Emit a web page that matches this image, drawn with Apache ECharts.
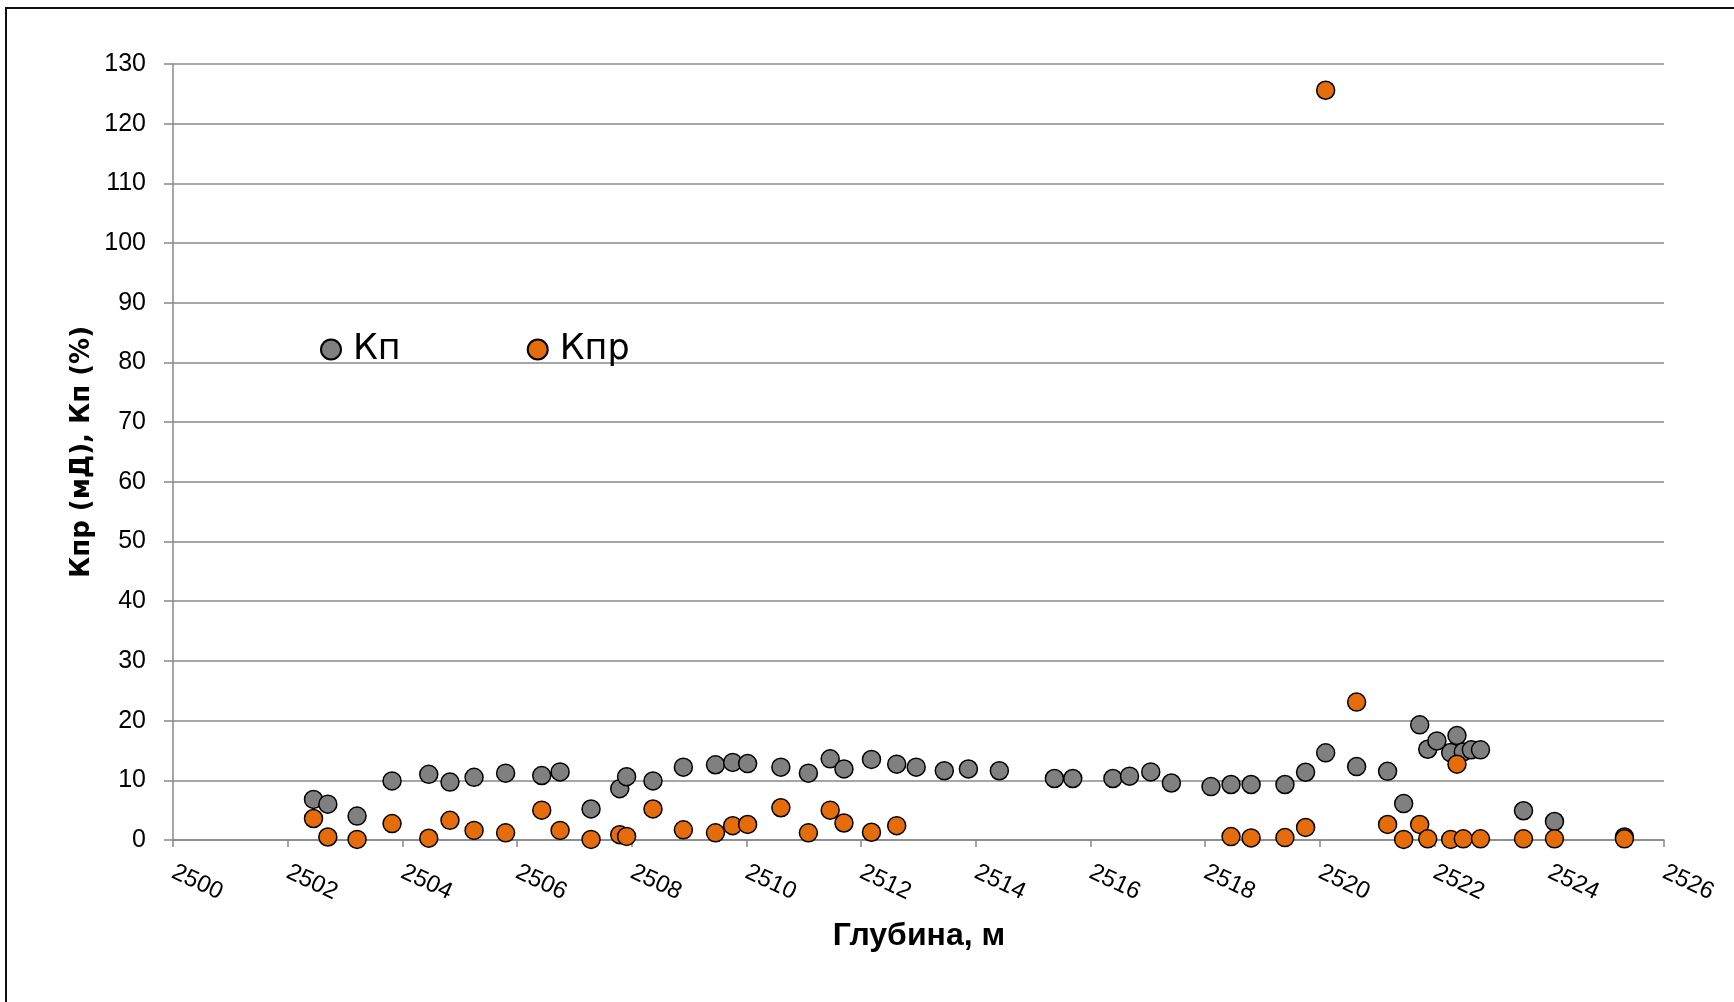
<!DOCTYPE html>
<html>
<head>
<meta charset="utf-8">
<script src="https://cdn.jsdelivr.net/npm/echarts@6/dist/echarts.min.js"></script>
<style>
html,body{margin:0;padding:0;background:#fff;}
#chart{width:1734px;height:1002px;}
</style>
</head>
<body>
<div id="chart"></div>
<script>
// Depth, m
const depths = [2502.45,2502.70,2503.21,2503.82,2504.46,2504.83,2505.25,2505.80,2506.43,2506.75,
  2507.29,2507.79,2507.91,2508.37,2508.90,2509.46,2509.76,2510.02,2510.60,2511.08,
  2511.46,2511.70,2512.18,2512.62,2512.96,2513.45,2513.87,2514.41,2515.37,2515.69,
  2516.39,2516.68,2517.05,2517.41,2518.10,2518.45,2518.80,2519.39,2519.75,2520.10,
  2520.64,2521.18,2521.46,2521.74,2521.88,2522.04,2522.28,2522.39,2522.50,2522.64,
  2522.80,2523.55,2524.09,2525.31];
// Кп (%)
const kp = [6.8,6.0,4.0,9.9,11.0,9.7,10.5,11.2,10.8,11.4,
  5.2,8.6,10.6,9.9,12.2,12.6,13.0,12.8,12.2,11.2,
  13.6,11.9,13.5,12.7,12.2,11.6,11.9,11.6,10.3,10.3,
  10.3,10.7,11.4,9.55,8.95,9.3,9.3,9.3,11.35,14.6,
  12.3,11.5,6.1,19.3,15.2,16.6,14.65,17.5,14.75,15.1,
  15.1,4.9,3.1,0.5];
// Кпр (мД)
const kpr = [3.6,0.5,0.1,2.75,0.3,3.3,1.6,1.2,5.0,1.6,
  0.1,0.9,0.6,5.2,1.7,1.2,2.4,2.6,5.4,1.2,
  5.0,2.85,1.3,2.4,null,null,null,null,null,null,
  null,null,null,null,null,0.57,0.35,0.4,2.1,125.6,
  23.1,2.6,0.1,2.6,0.2,null,0.1,12.7,0.2,null,
  0.2,0.2,0.2,0.2];
const seriesNames = ['Кп','Кпр'];
const xTitle = 'Глубина, м';
const yTitle = 'Кпр (мД), Кп (%)';

const pairs = (vals) => depths.map((d,i)=>[d, vals[i]]).filter(p => p[1] !== null);

const chart = echarts.init(document.getElementById('chart'), null, {renderer:'canvas'});
const gridColor = '#888888';
chart.setOption({
  backgroundColor:'#ffffff',
  animation:false,
  grid:{left:173, right:70, top:64, bottom:162},
  legend:{
    left:315, top:327, padding:5, itemWidth:20, itemHeight:20, itemGap:126,
    icon:'circle',
    textStyle:{fontFamily:'DejaVu Sans', fontSize:35, color:'#000', padding:[0,0,0,7]},
    data: seriesNames
  },
  xAxis:{
    type:'value', min:2500, max:2526, interval:2,
    splitLine:{show:false},
    axisLine:{show:true, lineStyle:{color:gridColor, width:1.5}},
    axisTick:{show:true, length:7, lineStyle:{color:gridColor, width:1.5}},
    axisLabel:{rotate:-25, margin:31, fontFamily:'Liberation Sans', fontSize:24, color:'#000',
      formatter:(v)=>String(v)}
  },
  yAxis:{
    type:'value', min:0, max:130, interval:10,
    splitLine:{show:true, lineStyle:{color:gridColor, width:1.5}},
    axisLine:{show:true, lineStyle:{color:gridColor, width:1.5}},
    axisTick:{show:true, length:9, lineStyle:{color:gridColor, width:1.5}},
    axisLabel:{margin:27, fontFamily:'Liberation Sans', fontSize:25, color:'#000'}
  },
  graphic:[
    {type:'rect', silent:true, shape:{x:6, y:8, width:1800, height:1100},
     style:{fill:null, stroke:'#111', lineWidth:2}},
    {type:'text', silent:true, x:919, y:936,
     style:{text:xTitle, font:'bold 32px "Liberation Sans"', fill:'#000', textAlign:'center', textVerticalAlign:'middle'}},
    {type:'text', silent:true, x:82, y:452, rotation:Math.PI/2,
     style:{text:yTitle, font:'bold 26px "DejaVu Sans"', fill:'#000', textAlign:'center', textVerticalAlign:'middle'}}
  ],
  series:[
    {name:seriesNames[0], type:'scatter', symbol:'circle', symbolSize:18,
     itemStyle:{color:'#808080', borderColor:'#000', borderWidth:1.5, opacity:1},
     data:pairs(kp)},
    {name:seriesNames[1], type:'scatter', symbol:'circle', symbolSize:18,
     itemStyle:{color:'#E46C0A', borderColor:'#000', borderWidth:1.5, opacity:1},
     data:pairs(kpr)}
  ]
});
</script>
</body>
</html>
